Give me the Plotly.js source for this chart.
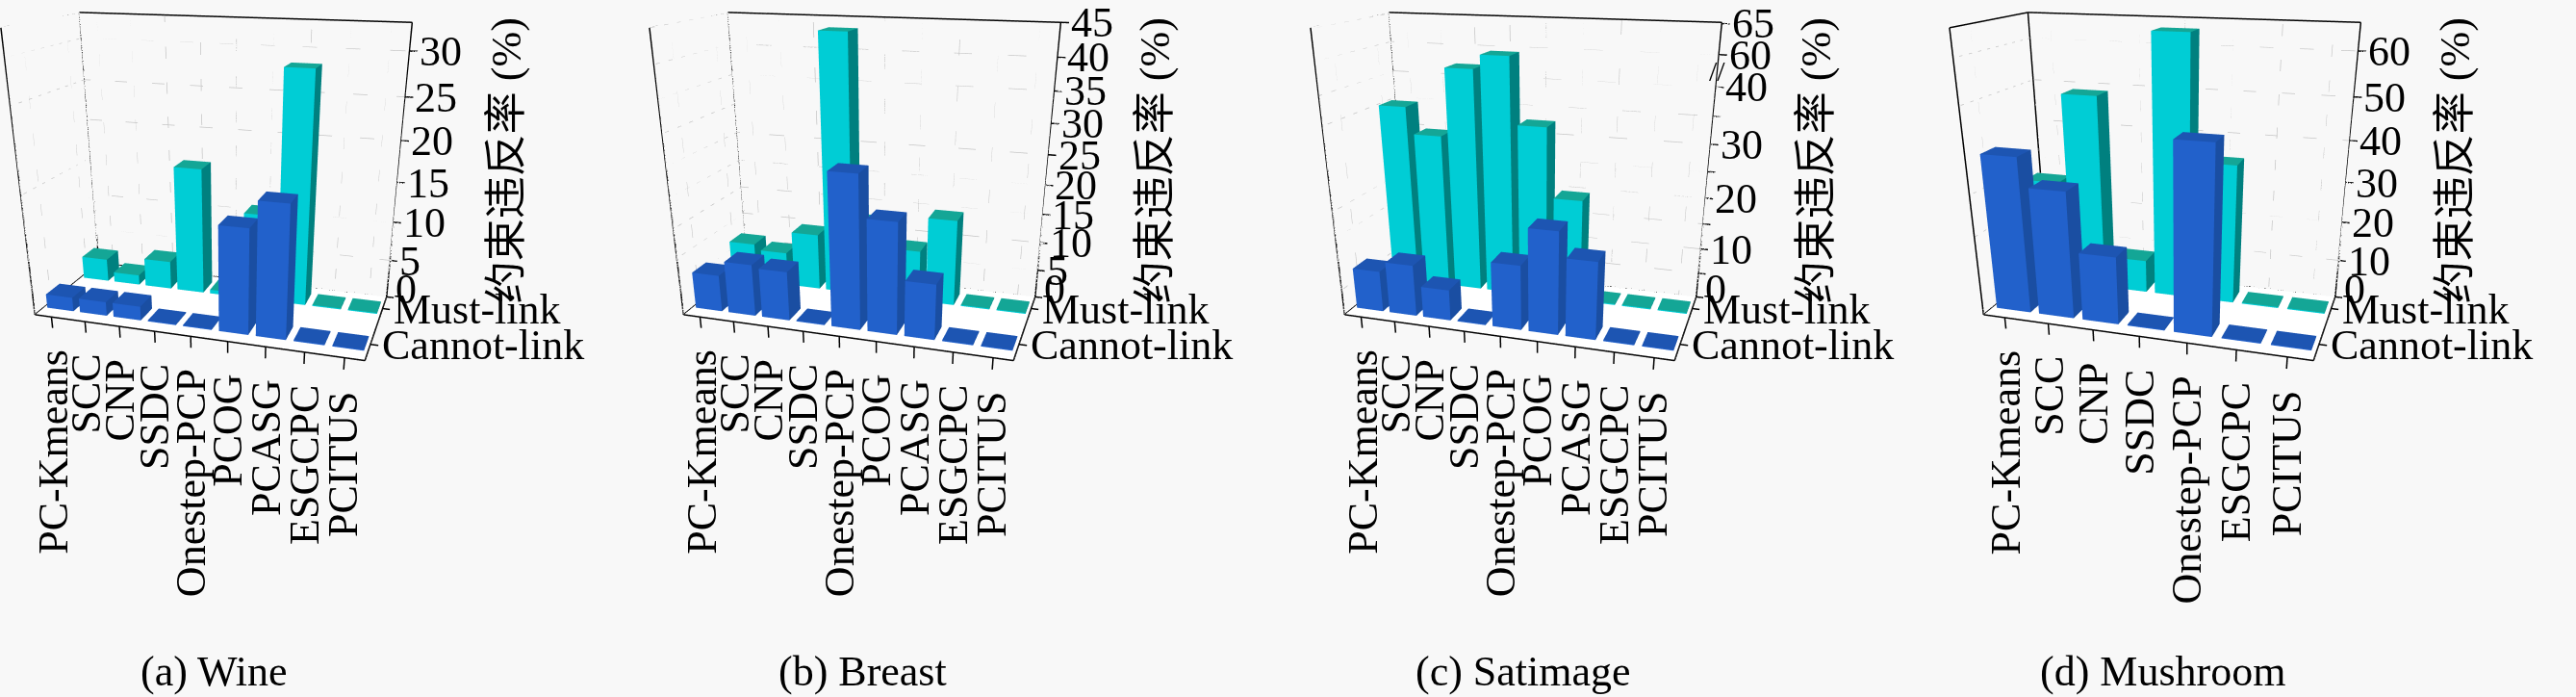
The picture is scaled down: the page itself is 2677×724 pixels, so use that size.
<!DOCTYPE html>
<html>
<head>
<meta charset="utf-8">
<script src="https://cdn.plot.ly/plotly-3.0.1.min.js"></script>
<style>body{margin:0;background:#f8f8f8;}</style>
</head>
<body>
<div id="chart" style="width:2677px;height:724px;"></div>
<script>
// method names (x axis), row names (y axis)
var methods9 = ['PC-Kmeans', 'SCC', 'CNP', 'SSDC', 'Onestep-PCP', 'PCOG', 'PCASG', 'ESGCPC', 'PCITUS'];
var methods7 = ['PC-Kmeans', 'SCC', 'CNP', 'SSDC', 'Onestep-PCP', 'ESGCPC', 'PCITUS'];
var rowNames = ['Cannot-link', 'Must-link'];

// constraint violation rate (%)
var wineMust     = [3.0, 1.3, 3.7, 16.2, 0.5, 11.2, 28.5, 0, 0];
var wineCannot   = [1.8, 1.8, 1.8, 0, 0, 13.0, 16.2, 0, 0];
var breastMust   = [7.0, 6.0, 10.0, 43.5, 13.0, 9.0, 15.0, 0, 0];
var breastCannot = [6.4, 9.0, 8.5, 0, 25.5, 18.7, 9.4, 0, 0];
var satMust      = [35.0, 30.0, 57.0, 59.5, 33.0, 20.0, 0, 0, 0];
var satCannot    = [8.0, 10.0, 6.0, 0, 12.4, 19.4, 14.7, 0, 0];
var mushMust     = [27.0, 49.0, 8.5, 64.0, 35.0, 0, 0];
var mushCannot   = [38.5, 31.5, 17.0, 0, 45.0, 0, 0];

// z ticks
var wineTicks   = [0, 5, 10, 15, 20, 25, 30];
var breastTicks = [0, 5, 10, 15, 20, 25, 30, 35, 40, 45];
var satTicks    = [0, 10, 20, 30, 40, 60, 65];
var satMinor    = [5, 15, 25, 35];
var mushTicks   = [0, 10, 20, 30, 40, 50, 60];

// broken z axis of Satimage: 40..60 is squeezed out
function satMap(v) { return v > 40 ? v - 14.6 : v; }
function plain(v) { return v; }

var panels = [
  {cats: methods9, must: wineMust, cannot: wineCannot, ticks: wineTicks, minor: [], zTop: 33, map: plain, caption: '(a) Wine', x0: 0},
  {cats: methods9, must: breastMust, cannot: breastCannot, ticks: breastTicks, minor: [], zTop: 45, map: plain, caption: '(b) Breast', x0: 674},
  {cats: methods9, must: satMust, cannot: satCannot, ticks: satTicks, minor: satMinor, zTop: 50.6, map: satMap, caption: '(c) Satimage', x0: 1361, brk: 42.7},
  {cats: methods7, must: mushMust, cannot: mushCannot, ticks: mushTicks, minor: [], zTop: 66, map: plain, caption: '(d) Mushroom', x0: 2025}
];

var W = 2677, H = 724;
var FONT = 'Liberation Serif, Noto Sans CJK SC, serif';
var blueSet = {front: '#2261cb', side: '#1a4ea2', top: '#1d55b2'};
var cyanSet = {front: '#00cdd5', side: '#00807f', top: '#14a696'};
var FLAT = {ambient: 1, diffuse: 0, specular: 0, roughness: 1, fresnel: 0};

var data = [];
var layout = {
  width: W, height: H,
  paper_bgcolor: '#f8f8f8',
  margin: {l: 0, r: 0, t: 0, b: 0},
  showlegend: false,
  annotations: []
};

function boxes(vals, row, col, zTop, map, sceneId) {
  var x = [], y = [], z = [], I = [], J = [], K = [], fc = [];
  var faces = [
    [[0, 1, 2], [0, 2, 3], 'side'],
    [[4, 5, 6], [4, 6, 7], 'top'],
    [[0, 1, 5], [0, 5, 4], 'front'],
    [[3, 2, 6], [3, 6, 7], 'side'],
    [[0, 3, 7], [0, 7, 4], 'front'],
    [[1, 2, 6], [1, 6, 5], 'side']
  ];
  vals.forEach(function(v, i) {
    var h = Math.max(map(v), zTop * 0.004);
    var xa = i + 1 - 0.4, xb = i + 1 + 0.4, ya = row - 0.175, yb = row + 0.175;
    var b = x.length;
    [[xa, ya, 0], [xb, ya, 0], [xb, yb, 0], [xa, yb, 0],
     [xa, ya, h], [xb, ya, h], [xb, yb, h], [xa, yb, h]].forEach(function(p) {
      x.push(p[0]); y.push(p[1]); z.push(p[2]);
    });
    faces.forEach(function(f) {
      [f[0], f[1]].forEach(function(t) {
        I.push(b + t[0]); J.push(b + t[1]); K.push(b + t[2]);
        fc.push(col[f[2]]);
      });
    });
  });
  return {
    type: 'mesh3d', scene: sceneId, x: x, y: y, z: z, i: I, j: J, k: K,
    facecolor: fc, flatshading: true, hoverinfo: 'skip', lighting: FLAT
  };
}

function lineTrace(pts, sceneId, color, width, dash) {
  var x = [], y = [], z = [];
  pts.forEach(function(seg) {
    x.push(seg[0][0], seg[1][0], null);
    y.push(seg[0][1], seg[1][1], null);
    z.push(seg[0][2], seg[1][2], null);
  });
  return {type: 'scatter3d', mode: 'lines', scene: sceneId, x: x, y: y, z: z,
          line: {color: color, width: width, dash: dash || 'solid'}, hoverinfo: 'skip'};
}

panels.forEach(function(p, idx) {
  var sid = idx === 0 ? 'scene' : 'scene' + (idx + 1);
  var n = p.cats.length;
  var x1 = 0.5, x2 = n + 0.5, y1 = 0.6, y2 = 2.37, zt = p.zTop;
  var ext = 0.2 * n / 9;
  var xHi = x2 + 3 * ext, yLo = y1 - 0.1, zLow = -0.06 * zt, zHi = zt * 1.01;

  // floor
  data.push({type: 'mesh3d', scene: sid, x: [x1, x2, x2, x1], y: [y1, y1, y2, y2], z: [0, 0, 0, 0],
             i: [0, 0], j: [1, 2], k: [2, 3], color: '#ffffff', flatshading: true,
             hoverinfo: 'skip', lighting: FLAT});

  // dotted grid on back and left walls
  var grid = [];
  var allTicks = p.ticks.map(p.map).concat(p.minor);
  allTicks.forEach(function(t) {
    grid.push([[x1, y2, t], [x2, y2, t]]);
    grid.push([[x1, y1, t], [x1, y2, t]]);
  });
  p.cats.forEach(function(c, i) { grid.push([[i + 1, y2, 0], [i + 1, y2, zt]]); });
  [1, 2].forEach(function(r) { grid.push([[x1, r, 0], [x1, r, zt]]); });
  data.push(lineTrace(grid, sid, '#c6c6c6', 1.5, 'dot'));

  // bars
  data.push(boxes(p.must, 2, cyanSet, zt, p.map, sid));
  data.push(boxes(p.cannot, 1, blueSet, zt, p.map, sid));

  // axis box edges and tick marks
  var edges = [
    [[x1, y2, zt], [x2, y2, zt]], [[x1, y1, zt], [x1, y2, zt]],
    [[x1, y1, 0], [x1, y1, zt]], [[x1, y2, 0], [x1, y2, zt]], [[x2, y2, 0], [x2, y2, zt]],
    [[x1, y1, 0], [x2, y1, 0]], [[x2, y1, 0], [x2, y2, 0]],
    [[x1, y2, 0], [x2, y2, 0]], [[x1, y1, 0], [x1, y2, 0]]
  ];
  allTicks.forEach(function(t) { edges.push([[x2, y2, t], [x2 + ext, y2, t]]); });
  p.cats.forEach(function(c, i) { edges.push([[i + 1, y1, 0], [i + 1, y1, -0.045 * zt]]); });
  [1, 2].forEach(function(r) { edges.push([[x2, r, 0], [x2 + ext, r, 0]]); });
  data.push(lineTrace(edges, sid, '#000000', 3));

  // text placed in data space
  var ann = [];
  var f = {family: FONT, size: 44, color: '#000'};
  p.cats.forEach(function(c, i) {
    ann.push({x: i + 1, y: y1, z: -0.045 * zt, text: c, textangle: -90, showarrow: false,
              xanchor: 'center', yanchor: 'top', yshift: -20, font: f});
  });
  rowNames.forEach(function(r, i) {
    ann.push({x: x2 + ext, y: i + 1, z: 0, text: r, showarrow: false,
              xanchor: 'left', yanchor: 'middle', xshift: 2, font: f});
  });
  p.ticks.forEach(function(t) {
    ann.push({x: x2 + ext, y: y2, z: p.map(t), text: String(t), showarrow: false,
              xanchor: 'left', yanchor: 'middle', xshift: 0, yshift: t === 0 ? 9 : 0, font: f});
  });
  ann.push({x: x2, y: y2, z: zt * 0.5, text: '约束违反率 (%)', textangle: -90, showarrow: false,
            xanchor: 'left', yanchor: 'middle', xshift: 86, yshift: 10, font: f});
  if (p.brk) {
    ann.push({x: x2, y: y2, z: p.brk, text: '//', showarrow: false, xanchor: 'center',
              yanchor: 'middle', font: {family: FONT, size: 30, color: '#000'}});
  }

  var hidden = {visible: false, showspikes: false};
  var dx = 0.024, dz = -0.52;
  layout[sid] = {
    domain: {x: [p.x0 / W, (p.x0 + 480) / W], y: [1 - 704 / H, 1]},
    xaxis: Object.assign({range: [x1, xHi]}, hidden),
    yaxis: Object.assign({range: [yLo, y2]}, hidden),
    zaxis: Object.assign({range: [zLow, zHi]}, hidden),
    aspectmode: 'manual',
    aspectratio: {x: 1.064 * (xHi - x1) / n, y: 0.476 * (y2 - yLo) / (y2 - y1), z: 0.868 * (zHi - zLow) / zt},
    camera: {eye: {x: 0.714 + dx, y: -2.322, z: 1.221 + dz}, up: {x: 0, y: 0, z: 1},
             center: {x: dx, y: 0, z: dz}, projection: {type: 'perspective'}},
    bgcolor: 'rgba(0,0,0,0)',
    dragmode: false,
    annotations: ann
  };

  layout.annotations.push({xref: 'paper', yref: 'paper', x: (p.x0 + 222) / W, y: 1 - 697 / H,
    text: p.caption, showarrow: false, xanchor: 'center', yanchor: 'middle', font: f});
});

Plotly.newPlot('chart', data, layout, {displayModeBar: false});
</script>
</body>
</html>
